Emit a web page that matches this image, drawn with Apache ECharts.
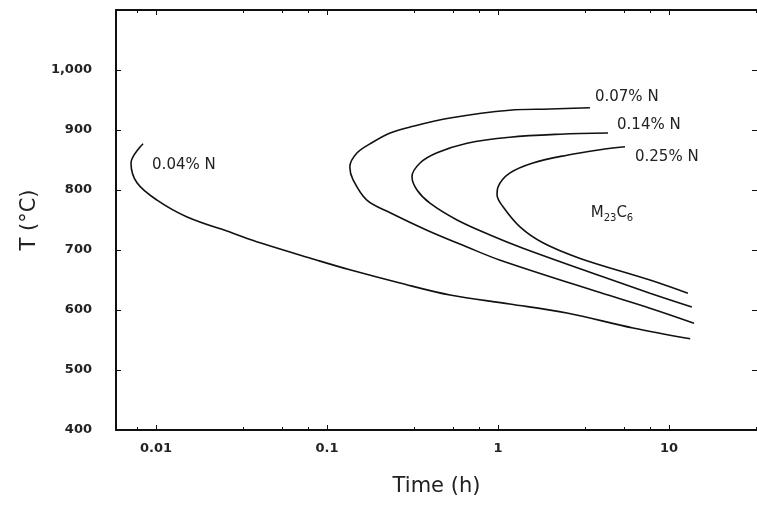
<!DOCTYPE html>
<html>
<head>
<meta charset="utf-8">
<script src="https://cdn.jsdelivr.net/npm/echarts@6/dist/echarts.min.js"></script>
<style>html,body{margin:0;padding:0;background:#fff}#c{width:757px;height:505px}</style>
</head>
<body>
<div id="c"></div>
<script>
// Time (h) / Temperature (°C) points
const curve004 = [[13.3,552],[6.16,570],[2.53,595],[1.17,610],[0.524,625],[0.267,645],[0.136,667],[0.0874,683],[0.0406,712],[0.0282,728],[0.0152,755],[0.01014,783],[0.00774,812],[0.00714,845],[0.0084,877]];
const curve007 = [[14.0,578],[7.74,603],[3.95,629],[1.03,683],[0.659,705],[0.384,733],[0.234,762],[0.171,783],[0.142,817],[0.136,838],[0.150,862],[0.186,880],[0.234,895],[0.306,905],[0.524,920],[1.17,933],[2.01,935],[3.45,937]];
const curve014 = [[13.6,605],[7.74,628],[3.95,657],[1.40,703],[0.898,725],[0.576,750],[0.400,778],[0.336,800],[0.314,822],[0.350,845],[0.440,862],[0.659,878],[1.17,888],[2.31,893],[4.40,895]];
const curve025 = [[12.9,628],[7.74,650],[3.02,686],[1.83,712],[1.35,738],[1.07,772],[0.987,792],[1.0,805],[1.17,828],[1.60,845],[2.53,858],[3.95,867],[5.53,872]];
const seriesNames = ['0.04% N','0.07% N','0.14% N','0.25% N'];
const phaseLabelPos = [4.64, 762]; // M23C6 region label
const xTickValues = [0.01, 0.1, 1, 10];
const xTickLabels = ['0.01', '0.1', '1', '10'];
const yTickValues = [400, 500, 600, 700, 800, 900, 1000];
const yTickLabels = ['400', '500', '600', '700', '800', '900', '1,000'];

const xMin = Math.pow(10, -2.234), xMax = Math.pow(10, 1.5146);
function xFmt(v){
  let best = -1, bd = 1e9;
  xTickValues.forEach((t,i)=>{const d=Math.abs(Math.log10(v)-Math.log10(t)); if(d<bd){bd=d;best=i;}});
  return bd < 0.01 ? xTickLabels[best] : '';
}
function yFmt(v){
  const i = yTickValues.indexOf(Math.round(v));
  return i >= 0 ? yTickLabels[i] : '';
}
const ink = '#111';
const lblFont = {fontFamily:'DejaVu Sans', fontSize:15, color:'#222'};
const offsets = [[4,21],[0,-11],[4,-8],[5,10]];
const datas = [curve004, curve007, curve014, curve025];

const series = datas.map((d,i)=>({
  name: seriesNames[i], type:'line', data:d, xAxisIndex:0, yAxisIndex:0,
  smooth:0.35, showSymbol:false, symbol:'none', silent:true,
  lineStyle:{color:ink, width:1.6},
  endLabel:{show:true, position:'right', distance:5, offset:offsets[i], formatter:'{a}', ...lblFont}
}));
series[3].markPoint = {
  symbol:'circle', symbolSize:0, silent:true,
  data:[{coord:phaseLabelPos}],
  label:{show:true, position:'inside', formatter:'{a|M}{s|23}{a|C}{s|6}',
    rich:{a:{fontFamily:'DejaVu Sans', fontSize:15, color:'#222', lineHeight:22, verticalAlign:'middle'},
          s:{fontFamily:'DejaVu Sans', fontSize:10, color:'#222', lineHeight:22, verticalAlign:'bottom'}}}
};

const chart = echarts.init(document.getElementById('c'), null, {renderer:'canvas'});
chart.setOption({
  animation:false,
  backgroundColor:'#fff',
  grid:{left:116, top:10, right:0, bottom:75},
  xAxis:[{
    type:'log', logBase:10, min:xMin, max:xMax, position:'bottom',
    name:'Time (h)', nameLocation:'middle', nameGap:46,
    nameTextStyle:{fontFamily:'DejaVu Sans', fontSize:21, color:'#222'},
    axisLine:{lineStyle:{color:ink, width:2}},
    axisTick:{inside:true, length:5, lineStyle:{color:ink}},
    minorTick:{show:true, splitNumber:4, length:3, lineStyle:{color:ink}},
    splitLine:{show:false}, minorSplitLine:{show:false},
    axisLabel:{formatter:xFmt, showMinLabel:false, showMaxLabel:false, margin:12,
      fontFamily:'DejaVu Sans', fontWeight:'bold', fontSize:13, color:'#222'}
  },{
    type:'log', logBase:10, min:xMin, max:xMax, position:'top',
    axisLine:{lineStyle:{color:ink, width:2}},
    axisTick:{inside:true, length:5, lineStyle:{color:ink}},
    minorTick:{show:true, splitNumber:4, length:3, lineStyle:{color:ink}},
    splitLine:{show:false}, axisLabel:{show:false}
  }],
  yAxis:[{
    type:'value', min:400, max:1100, interval:100, position:'left',
    name:'T (°C)', nameLocation:'middle', nameGap:76,
    nameTextStyle:{fontFamily:'DejaVu Sans', fontSize:21, color:'#222'},
    axisLine:{show:true, lineStyle:{color:ink, width:2}},
    axisTick:{show:true, inside:true, length:5, lineStyle:{color:ink}},
    splitLine:{show:false},
    axisLabel:{formatter:yFmt, showMaxLabel:false, margin:24,
      fontFamily:'DejaVu Sans', fontWeight:'bold', fontSize:13, color:'#222'}
  },{
    type:'value', min:400, max:1100, interval:100, position:'right',
    axisLine:{show:false},
    axisTick:{show:true, inside:true, length:5, lineStyle:{color:ink}},
    splitLine:{show:false}, axisLabel:{show:false}
  }],
  series: series
});
</script>
</body>
</html>
